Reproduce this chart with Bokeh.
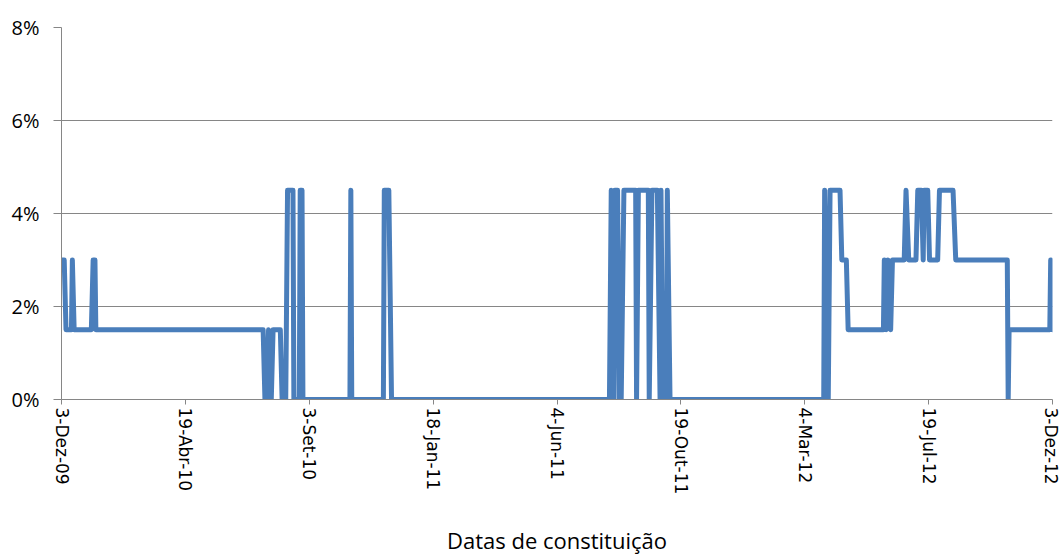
import numpy as np
from bokeh.plotting import figure
from bokeh.models import FixedTicker, NumeralTickFormatter, Range1d, ColumnDataSource
from bokeh.embed import file_html
from bokeh.resources import INLINE

# Days elapsed since 3-Dez-09 (date of constitution) and rate (fraction)
dias = [1, 3, 5, 11, 12, 14, 33, 35, 37, 38,
        223, 225, 227, 229, 232, 234, 242, 244, 248, 250, 256, 257, 263, 264, 266, 267,
        319, 320, 321, 356, 357, 362, 365,
        606, 608, 611, 612, 615, 617, 619, 622, 635, 636, 638, 649, 650, 653, 659, 662, 663, 665, 669, 670, 673,
        843, 844, 848, 850, 861, 863, 868, 870,
        909, 910, 912, 914, 917, 919, 932, 934, 937, 945, 947, 951, 953, 954, 958, 960, 969, 971, 986, 989,
        1046, 1047, 1048, 1093, 1094, 1096]
taxa = [0.03, 0.03, 0.015, 0.015, 0.03, 0.015, 0.015, 0.03, 0.03, 0.015,
        0.015, 0.0, 0.0, 0.015, 0.0, 0.015, 0.015, 0.0, 0.0, 0.045, 0.045, 0.0, 0.0, 0.045, 0.045, 0.0,
        0.0, 0.045, 0.0, 0.0, 0.045, 0.045, 0.0,
        0.0, 0.045, 0.0, 0.045, 0.045, 0.0, 0.0, 0.045, 0.045, 0.0, 0.045, 0.045, 0.0, 0.045, 0.045, 0.0, 0.045, 0.0, 0.0, 0.045, 0.0,
        0.0, 0.045, 0.0, 0.045, 0.045, 0.03, 0.03, 0.015,
        0.015, 0.03, 0.015, 0.03, 0.015, 0.03, 0.03, 0.045, 0.03, 0.03, 0.045, 0.045, 0.03, 0.045, 0.045, 0.03, 0.03, 0.045, 0.045, 0.03,
        0.03, 0.0, 0.015, 0.015, 0.03, 0.015]

tick_dias = [0, 137, 274, 411, 548, 685, 822, 959, 1096]
tick_labels = ["3-Dez-09", "19-Abr-10", "3-Set-10", "18-Jan-11", "4-Jun-11",
               "19-Out-11", "4-Mar-12", "19-Jul-12", "3-Dez-12"]
y_ticks = [0.0, 0.02, 0.04, 0.06, 0.08]

grey = "#868686"

p = figure(width=1060, height=558, output_backend="svg", toolbar_location=None,
           min_border_left=61, min_border_right=8, min_border_top=27, min_border_bottom=159,
           x_range=Range1d(0, 1096), y_range=Range1d(0, 0.08))
p.outline_line_color = None
p.background_fill_color = "white"

src = ColumnDataSource(dict(x=dias, y=taxa))
p.line("x", "y", source=src, line_width=5, line_color="#4a7ebb", line_join="round", line_cap="round")

# x axis
p.xaxis.ticker = FixedTicker(ticks=tick_dias)
p.xaxis.major_label_overrides = {d: l for d, l in zip(tick_dias, tick_labels)}
p.xaxis.major_label_orientation = "vertical"
p.xaxis.major_label_text_font = "DejaVu Sans"
p.xaxis.major_label_text_font_size = "17px"
p.xaxis.major_label_text_color = "black"
p.xaxis.major_label_standoff = 3
p.xaxis.major_tick_out = 5
p.xaxis.major_tick_in = 0
p.xaxis.minor_tick_line_color = None
p.xaxis.axis_line_color = grey
p.xaxis.major_tick_line_color = grey
p.xaxis.axis_label = "Datas de constituição"
p.xaxis.axis_label_text_font = "Open Sans"
p.xaxis.axis_label_text_font_style = "normal"
p.xaxis.axis_label_text_font_size = "22px"
p.xaxis.axis_label_text_color = "black"
p.xaxis.axis_label_standoff = 28

# y axis
p.yaxis.ticker = FixedTicker(ticks=y_ticks)
p.yaxis.formatter = NumeralTickFormatter(format="0%")
p.yaxis.major_label_text_font = "Open Sans"
p.yaxis.major_label_text_font_size = "20px"
p.yaxis.major_label_text_color = "black"
p.yaxis.major_label_standoff = 14
p.yaxis.major_tick_out = 8
p.yaxis.major_tick_in = 0
p.yaxis.minor_tick_line_color = None
p.yaxis.axis_line_color = grey
p.yaxis.major_tick_line_color = grey

p.xgrid.grid_line_color = None
p.ygrid.grid_line_color = grey
p.ygrid.grid_line_width = 1

open("out.html", "w").write(file_html(p, INLINE))
